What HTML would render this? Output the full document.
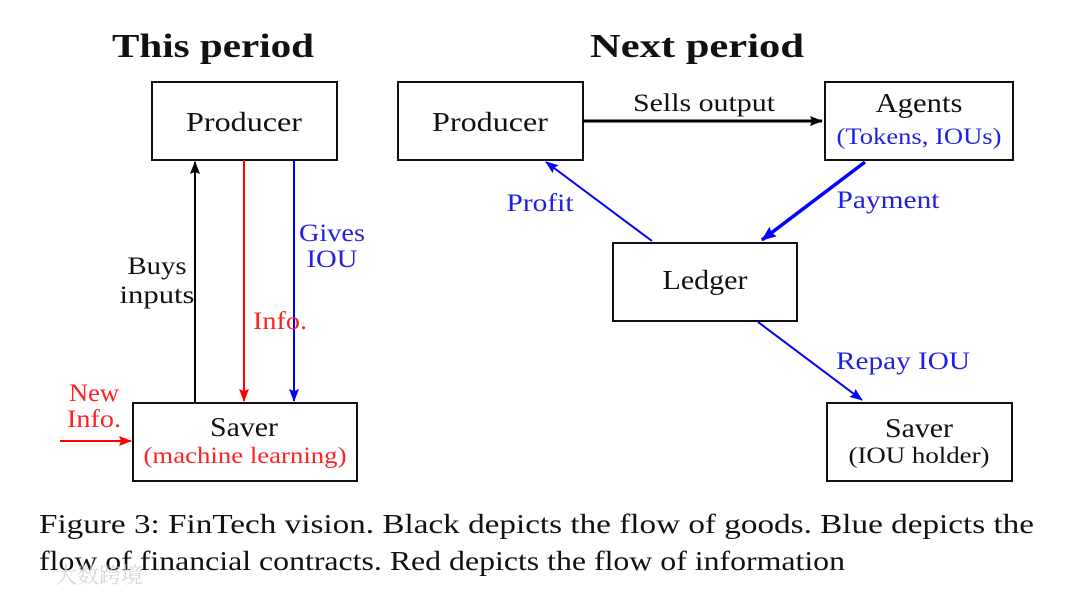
<!DOCTYPE html>
<html><head><meta charset="utf-8"><style>
html,body{margin:0;padding:0;background:#fff;}
svg{display:block;}
text{font-family:"Liberation Serif","Noto Serif CJK SC",serif;}
</style></head><body>
<svg width="1080" height="595" viewBox="0 0 1080 595" xmlns="http://www.w3.org/2000/svg">
<defs>
<marker id="ak" markerWidth="13" markerHeight="10" refX="12" refY="5" orient="auto" markerUnits="userSpaceOnUse"><path d="M0,0 L13,5 L0,10 L2,5 z" fill="#000"/></marker>
<marker id="ar" markerWidth="13" markerHeight="10" refX="12" refY="5" orient="auto" markerUnits="userSpaceOnUse"><path d="M0,0 L13,5 L0,10 L2,5 z" fill="#f00"/></marker>
<marker id="ab" markerWidth="13" markerHeight="10" refX="12" refY="5" orient="auto" markerUnits="userSpaceOnUse"><path d="M0,0 L13,5 L0,10 L2,5 z" fill="#00f"/></marker>
<marker id="ab2" markerWidth="15" markerHeight="12" refX="14" refY="6" orient="auto" markerUnits="userSpaceOnUse"><path d="M0,0 L15,6 L0,12 L2,6 z" fill="#00f"/></marker>
</defs>
<g font-weight="bold" font-size="34" text-anchor="middle" fill="#111">
<text x="213" y="57" textLength="202" lengthAdjust="spacingAndGlyphs">This period</text>
<text x="697" y="57" textLength="214" lengthAdjust="spacingAndGlyphs">Next period</text>
</g>
<g fill="#fff" stroke="#111" stroke-width="2">
<rect x="152" y="82" width="185" height="78"/>
<rect x="398" y="82" width="185" height="78"/>
<rect x="825" y="82" width="188" height="78"/>
<rect x="613" y="243" width="184" height="78"/>
<rect x="133" y="403" width="224" height="78"/>
<rect x="827" y="403" width="185" height="78"/>
</g>
<g font-size="27" text-anchor="middle" fill="#111">
<text x="244" y="131" textLength="116" lengthAdjust="spacingAndGlyphs">Producer</text>
<text x="490" y="131" textLength="116" lengthAdjust="spacingAndGlyphs">Producer</text>
<text x="919" y="112" textLength="87" lengthAdjust="spacingAndGlyphs">Agents</text>
<text x="705" y="289" textLength="85" lengthAdjust="spacingAndGlyphs">Ledger</text>
<text x="244" y="436" textLength="68" lengthAdjust="spacingAndGlyphs">Saver</text>
<text x="919" y="437" textLength="68" lengthAdjust="spacingAndGlyphs">Saver</text>
</g>
<text x="919" y="144" font-size="23" text-anchor="middle" fill="#22d" textLength="165" lengthAdjust="spacingAndGlyphs">(Tokens, IOUs)</text>
<text x="245" y="463" font-size="23" text-anchor="middle" fill="#f22" textLength="203" lengthAdjust="spacingAndGlyphs">(machine learning)</text>
<text x="919" y="463" font-size="23" text-anchor="middle" fill="#111" textLength="141" lengthAdjust="spacingAndGlyphs">(IOU holder)</text>
<line x1="195" y1="403" x2="195" y2="162" stroke="#000" stroke-width="2" marker-end="url(#ak)"/>
<line x1="244" y1="160" x2="244" y2="401" stroke="#f00" stroke-width="2" marker-end="url(#ar)"/>
<line x1="294" y1="160" x2="294" y2="401" stroke="#00f" stroke-width="2" marker-end="url(#ab)"/>
<line x1="60" y1="441" x2="131" y2="441" stroke="#f00" stroke-width="2" marker-end="url(#ar)"/>
<line x1="583" y1="121" x2="822" y2="121" stroke="#000" stroke-width="3" marker-end="url(#ak)"/>
<line x1="865" y1="162" x2="762" y2="240" stroke="#00f" stroke-width="3.5" marker-end="url(#ab2)"/>
<line x1="652" y1="241" x2="546" y2="162" stroke="#00f" stroke-width="2" marker-end="url(#ab)"/>
<line x1="758" y1="322" x2="862" y2="400" stroke="#00f" stroke-width="2" marker-end="url(#ab)"/>
<g font-size="25">
<text x="157" y="274" text-anchor="middle" fill="#111" textLength="59" lengthAdjust="spacingAndGlyphs">Buys</text>
<text x="157" y="303" text-anchor="middle" fill="#111" textLength="75" lengthAdjust="spacingAndGlyphs">inputs</text>
<text x="280" y="329" text-anchor="middle" fill="#f22" textLength="54" lengthAdjust="spacingAndGlyphs">Info.</text>
<text x="332" y="241" text-anchor="middle" fill="#22d" textLength="66" lengthAdjust="spacingAndGlyphs">Gives</text>
<text x="332" y="267" text-anchor="middle" fill="#22d" textLength="51" lengthAdjust="spacingAndGlyphs">IOU</text>
<text x="94" y="401" text-anchor="middle" fill="#f22" textLength="50" lengthAdjust="spacingAndGlyphs">New</text>
<text x="94" y="427" text-anchor="middle" fill="#f22" textLength="54" lengthAdjust="spacingAndGlyphs">Info.</text>
<text x="704" y="111" text-anchor="middle" fill="#111" textLength="142" lengthAdjust="spacingAndGlyphs">Sells output</text>
<text x="540" y="211" text-anchor="middle" fill="#22d" textLength="67" lengthAdjust="spacingAndGlyphs">Profit</text>
<text x="888" y="208" text-anchor="middle" fill="#22d" textLength="103" lengthAdjust="spacingAndGlyphs">Payment</text>
<text x="903" y="369" text-anchor="middle" fill="#22d" textLength="134" lengthAdjust="spacingAndGlyphs">Repay IOU</text>
</g>
<g font-size="27" fill="#111">
<text x="39" y="533" textLength="995" lengthAdjust="spacingAndGlyphs">Figure 3:  FinTech vision.  Black depicts the flow of goods.  Blue depicts the</text>
<text x="39" y="570" textLength="806" lengthAdjust="spacingAndGlyphs">flow of financial contracts. Red depicts the flow of information</text>
</g>
<text x="55" y="583" font-size="22" fill="#ccc" opacity="0.8" font-family="Noto Sans CJK SC,sans-serif">大数跨境</text>
</svg>
</body></html>
